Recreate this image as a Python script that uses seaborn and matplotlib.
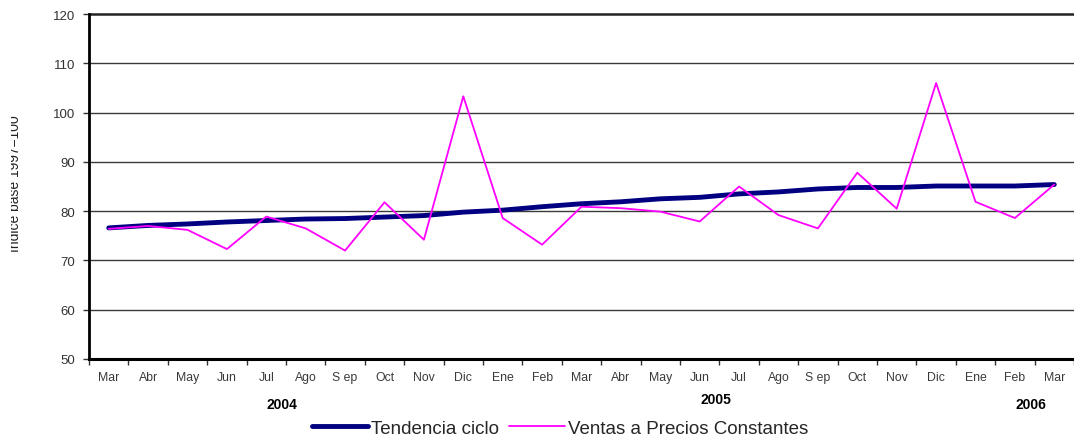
import numpy as np
import pandas as pd
import matplotlib
matplotlib.use("Agg")
import matplotlib.pyplot as plt
import matplotlib.transforms as mtransforms
from matplotlib.patches import Rectangle
from matplotlib.ticker import FixedLocator
import seaborn as sns

months = ["Mar", "Abr", "May", "Jun", "Jul", "Ago", "S ep", "Oct", "Nov", "Dic", "Ene", "Feb",
          "Mar", "Abr", "May", "Jun", "Jul", "Ago", "S ep", "Oct", "Nov", "Dic", "Ene", "Feb", "Mar"]
tendencia = [76.6, 77.1, 77.4, 77.8, 78.1, 78.4, 78.5, 78.8, 79.1, 79.8, 80.2, 80.9,
             81.5, 81.9, 82.5, 82.8, 83.5, 83.9, 84.5, 84.8, 84.8, 85.1, 85.1, 85.1, 85.4]
ventas = [76.4, 77.0, 76.2, 72.3, 78.9, 76.5, 72.0, 81.8, 74.2, 103.3, 78.6, 73.2,
          80.9, 80.6, 79.9, 77.9, 85.0, 79.2, 76.5, 87.8, 80.5, 106.0, 81.9, 78.6, 85.4]
years = ["2004", "2005", "2006"]
year_pos = [4.4, 15.4, 23.4]
yticks = [50, 60, 70, 80, 90, 100, 110, 120]

sns.set_style("white")
plt.rcParams['font.family'] = ['Liberation Sans', 'DejaVu Sans']

idx = np.arange(len(months))
df = pd.DataFrame({"idx": np.concatenate([idx, idx]),
                   "valor": tendencia + ventas,
                   "serie": ["Tendencia ciclo"] * len(idx) + ["Ventas a Precios Constantes"] * len(idx)})

fig = plt.figure(figsize=(10.74, 4.39), dpi=100)
ax = fig.add_axes([89/1074, 1 - 360/439, 1 - 89/1074, 345/439])

sns.lineplot(data=df[df.serie == "Tendencia ciclo"], x="idx", y="valor", ax=ax,
             color="#000080", linewidth=3.5, label="Tendencia ciclo", zorder=3)
sns.lineplot(data=df[df.serie == "Ventas a Precios Constantes"], x="idx", y="valor", ax=ax,
             color="#FF00FF", linewidth=1.3, label="Ventas a Precios Constantes", zorder=4)

ax.set_xlim(-0.5, len(months) - 0.5)
ax.set_ylim(50, 120)
ax.set_yticks(yticks)
for y in yticks[1:-1]:
    ax.axhline(y, color="#3a3a3a", linewidth=1.0, zorder=1)
ax.axhline(120, color="#222222", linewidth=1.8, zorder=1, clip_on=False)
ax.set_xticks(idx)
ax.set_xticklabels(months)
ax.xaxis.set_minor_locator(FixedLocator(np.arange(-0.5, len(months), 1.0)))
ax.tick_params(axis="both", which="both", bottom=True, left=True)
ax.tick_params(axis="x", which="major", length=0, pad=9, labelsize=8.8, labelcolor="#3a3a3a")
ax.tick_params(axis="x", which="minor", length=4, width=1, color="#333333", direction="out")
ax.tick_params(axis="y", which="major", length=4, width=1, color="#333333", direction="out",
               labelsize=9.5, labelcolor="#333333", pad=6)
ax.set_xlabel("")
ax.set_ylabel("")
for s in ["top", "right"]:
    ax.spines[s].set_visible(False)
ax.spines["left"].set_color("black")
ax.spines["left"].set_linewidth(2)
ax.spines["bottom"].set_color("black")
ax.spines["bottom"].set_linewidth(2.2)

trans = mtransforms.blended_transform_factory(ax.transData, ax.transAxes)
year_y = [-0.13, -0.117, -0.13]
for yl, xp, yy in zip(years, year_pos, year_y):
    ax.text(xp, yy, yl, transform=trans, ha="center", va="center",
            fontsize=10, fontweight="bold", color="black")

fig.text(19/1074, 1 - 184/439, "índice base 1997=100", rotation=90, rotation_mode="anchor",
         ha="center", va="baseline", fontsize=10, color="#222222", zorder=3)
# the reference shows this label clipped on its left side
fig.patches.append(Rectangle((0, 0), 10.5/1074, 1, transform=fig.transFigure,
                             facecolor="white", edgecolor="none", zorder=10))

ax.get_legend().remove()
fig.legend(*ax.get_legend_handles_labels(), loc="center", bbox_to_anchor=(560/1074, 1 - 429/439),
           ncol=2, frameon=False, fontsize=13.5, handlelength=3.0, handletextpad=0.15,
           columnspacing=0.5, borderpad=0)

fig.savefig("out.png", dpi=100)
